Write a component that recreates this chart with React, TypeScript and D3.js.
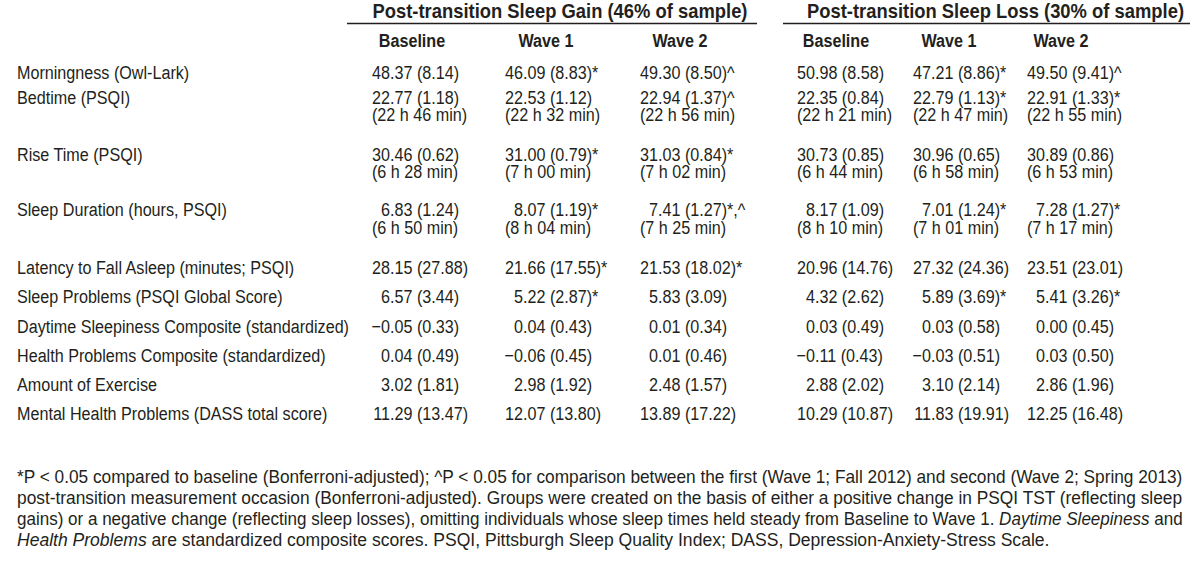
import React, { useLayoutEffect, useRef, useState } from "react";
import * as d3 from "d3";

const groups = [
  "Post-transition Sleep Gain (46% of sample)",
  "Post-transition Sleep Loss (30% of sample)",
];
const columns = ["Baseline", "Wave 1", "Wave 2"];
const rowLabels = [
  "Morningness (Owl-Lark)",
  "Bedtime (PSQI)",
  "Rise Time (PSQI)",
  "Sleep Duration (hours, PSQI)",
  "Latency to Fall Asleep (minutes; PSQI)",
  "Sleep Problems (PSQI Global Score)",
  "Daytime Sleepiness Composite (standardized)",
  "Health Problems Composite (standardized)",
  "Amount of Exercise",
  "Mental Health Problems (DASS total score)",
];
// vertical line slot of each row (rows with a time sub-line take about two slots)
const rowSlots = [0, 0.88, 2.88, 4.83, 6.87, 7.89, 8.94, 9.96, 10.99, 12];

const gainMeanBaseline = [48.37, 22.77, 30.46, 6.83, 28.15, 6.57, -0.05, 0.04, 3.02, 11.29];
const gainSdBaseline = [8.14, 1.18, 0.62, 1.24, 27.88, 3.44, 0.33, 0.49, 1.81, 13.47];
const gainMeanW1 = [46.09, 22.53, 31.0, 8.07, 21.66, 5.22, 0.04, -0.06, 2.98, 12.07];
const gainSdW1 = [8.83, 1.12, 0.79, 1.19, 17.55, 2.87, 0.43, 0.45, 1.92, 13.8];
const gainMeanW2 = [49.3, 22.94, 31.03, 7.41, 21.53, 5.83, 0.01, 0.01, 2.48, 13.89];
const gainSdW2 = [8.5, 1.37, 0.84, 1.27, 18.02, 3.09, 0.34, 0.46, 1.57, 17.22];
const lossMeanBaseline = [50.98, 22.35, 30.73, 8.17, 20.96, 4.32, 0.03, -0.11, 2.88, 10.29];
const lossSdBaseline = [8.58, 0.84, 0.85, 1.09, 14.76, 2.62, 0.49, 0.43, 2.02, 10.87];
const lossMeanW1 = [47.21, 22.79, 30.96, 7.01, 27.32, 5.89, 0.03, -0.03, 3.1, 11.83];
const lossSdW1 = [8.86, 1.13, 0.65, 1.24, 24.36, 3.69, 0.58, 0.51, 2.14, 19.91];
const lossMeanW2 = [49.5, 22.91, 30.89, 7.28, 23.51, 5.41, 0.0, 0.03, 2.86, 12.25];
const lossSdW2 = [9.41, 1.33, 0.86, 1.27, 23.01, 3.26, 0.45, 0.5, 1.96, 16.48];

const gainMarkBaseline = ["", "", "", "", "", "", "", "", "", ""];
const gainMarkW1 = ["*", "", "*", "*", "*", "*", "", "", "", ""];
const gainMarkW2 = ["^", "^", "*", "*,^", "*", "", "", "", "", ""];
const lossMarkBaseline = ["", "", "", "", "", "", "", "", "", ""];
const lossMarkW1 = ["*", "*", "", "*", "", "*", "", "", "", ""];
const lossMarkW2 = ["^", "*", "", "*", "", "*", "", "", "", ""];

const gainTimeBaseline = ["", "22 h 46 min", "6 h 28 min", "6 h 50 min", "", "", "", "", "", ""];
const gainTimeW1 = ["", "22 h 32 min", "7 h 00 min", "8 h 04 min", "", "", "", "", "", ""];
const gainTimeW2 = ["", "22 h 56 min", "7 h 02 min", "7 h 25 min", "", "", "", "", "", ""];
const lossTimeBaseline = ["", "22 h 21 min", "6 h 44 min", "8 h 10 min", "", "", "", "", "", ""];
const lossTimeW1 = ["", "22 h 47 min", "6 h 58 min", "7 h 01 min", "", "", "", "", "", ""];
const lossTimeW2 = ["", "22 h 55 min", "6 h 53 min", "7 h 17 min", "", "", "", "", "", ""];

const footnoteLines = [
  [{ t: "*P < 0.05 compared to baseline (Bonferroni-adjusted); ^P < 0.05 for comparison between the first (Wave 1; Fall 2012) and second (Wave 2; Spring 2013)", i: false }],
  [{ t: "post-transition measurement occasion (Bonferroni-adjusted). Groups were created on the basis of either a positive change in PSQI TST (reflecting sleep", i: false }],
  [
    { t: "gains) or a negative change (reflecting sleep losses), omitting individuals whose sleep times held steady from Baseline to Wave 1. ", i: false },
    { t: "Daytime Sleepiness", i: true },
    { t: " and", i: false },
  ],
  [
    { t: "Health Problems", i: true },
    { t: " are standardized composite scores. PSQI, Pittsburgh Sleep Quality Index; DASS, Depression-Anxiety-Stress Scale.", i: false },
  ],
];
const footnoteWidths = [1166, 1166, 1166, 1033];

const tableColumns = [
  { mean: gainMeanBaseline, sd: gainSdBaseline, mark: gainMarkBaseline, time: gainTimeBaseline },
  { mean: gainMeanW1, sd: gainSdW1, mark: gainMarkW1, time: gainTimeW1 },
  { mean: gainMeanW2, sd: gainSdW2, mark: gainMarkW2, time: gainTimeW2 },
  { mean: lossMeanBaseline, sd: lossSdBaseline, mark: lossMarkBaseline, time: lossTimeBaseline },
  { mean: lossMeanW1, sd: lossSdW1, mark: lossMarkW1, time: lossTimeW1 },
  { mean: lossMeanW2, sd: lossSdW2, mark: lossMarkW2, time: lossTimeW2 },
];

const FONT = "'Liberation Sans', Arial, Helvetica, sans-serif";
const FS = 19;
const SX = 0.85;
const INK = "#231f20";

const colLeft = [372, 505, 640, 797, 913, 1027];
const colHeadCenter = [412, 546, 680, 836, 949, 1061];
const groupRule = [
  [347, 757],
  [783, 1190],
];
const groupTextShift = [8, 9];
const DIGIT = FS * 0.556 * SX;
const SUB_DY = 17.5;

const yScale = d3.scaleLinear().domain([0, 12]).range([79, 420]);
const fmt = d3.format(".2f");
const minus = (s: string) => s.replace("-", "\u2212");

function T(props: any) {
  const { x, y, anchor = "start", weight = "normal", fs = FS, sx = SX, children } = props;
  return (
    <text
      transform={`translate(${x},${y}) scale(${sx},1)`}
      textAnchor={anchor}
      fontWeight={weight}
      fontSize={fs}
    >
      {children}
    </text>
  );
}

export default function App() {
  const noteRefs = useRef<(SVGTextElement | null)[]>([]);
  const [noteScale, setNoteScale] = useState<number[]>([0.92, 0.92, 0.92, 0.92]);

  useLayoutEffect(() => {
    const next = footnoteWidths.map((w, i) => {
      const el = noteRefs.current[i];
      if (!el) return 0.92;
      const natural = el.getComputedTextLength();
      return natural > 0 ? w / natural : 0.92;
    });
    setNoteScale(next);
  }, []);

  return (
    <svg
      width={1200}
      height={570}
      style={{ position: "absolute", left: 0, top: 0, background: "#fff" }}
      fontFamily={FONT}
      fill={INK}
    >
      <rect x={0} y={0} width={1200} height={570} fill="#fff" />
      {groups.map((g, gi) => (
        <g key={g}>
          <T
            x={(groupRule[gi][0] + groupRule[gi][1]) / 2 + groupTextShift[gi]}
            y={18}
            anchor="middle"
            weight="bold"
            fs={20}
            sx={0.92}
          >
            {g}
          </T>
          <line
            x1={groupRule[gi][0]}
            x2={groupRule[gi][1]}
            y1={23.5}
            y2={23.5}
            stroke={INK}
            strokeWidth={1.5}
          />
        </g>
      ))}
      {colHeadCenter.map((cx, ci) => (
        <T key={ci} x={cx} y={47} anchor="middle" weight="bold">
          {columns[ci % 3]}
        </T>
      ))}
      {rowLabels.map((label, ri) => (
        <T key={label} x={17} y={yScale(rowSlots[ri])}>
          {label}
        </T>
      ))}
      {tableColumns.map((col, ci) => {
        const left = colLeft[ci];
        const decX = left + 2 * DIGIT;
        return (
          <g key={ci}>
            {col.mean.map((m, ri) => {
              const y = yScale(rowSlots[ri]);
              const s = minus(fmt(m));
              const [intPart, decPart] = s.split(".");
              return (
                <text
                  key={ri}
                  transform={`translate(0,${y}) scale(${SX},1)`}
                  fontSize={FS}
                >
                  <tspan x={decX / SX} y={0} textAnchor="end">
                    {intPart}
                  </tspan>
                  <tspan x={decX / SX} y={0} textAnchor="start">
                    {"." + decPart + " (" + fmt(col.sd[ri]) + ")" + col.mark[ri]}
                  </tspan>
                  {col.time[ri] ? (
                    <tspan x={left / SX} y={SUB_DY} textAnchor="start">
                      {"(" + col.time[ri] + ")"}
                    </tspan>
                  ) : null}
                </text>
              );
            })}
          </g>
        );
      })}
      {footnoteLines.map((line, li) => (
        <text
          key={li}
          ref={(el) => {
            noteRefs.current[li] = el;
          }}
          transform={`translate(17,${483 + li * 21}) scale(${noteScale[li]},1)`}
          fontSize={18.5}
        >
          {line.map((seg, si) => (
            <tspan key={si} fontStyle={seg.i ? "italic" : "normal"}>
              {seg.t}
            </tspan>
          ))}
        </text>
      ))}
    </svg>
  );
}
